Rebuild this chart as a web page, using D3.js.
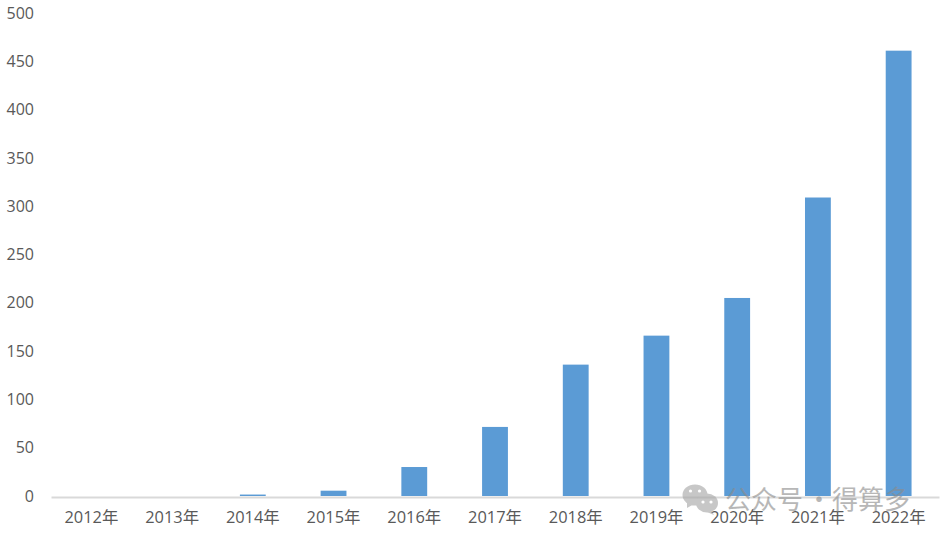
<!DOCTYPE html>
<html>
<head>
<meta charset="utf-8">
<script src="https://d3js.org/d3.v7.min.js"></script>
<style>
html, body { margin: 0; padding: 0; background: #fff; }
text { font-family: "Open Sans", "Noto Sans CJK SC", sans-serif; }
</style>
</head>
<body>
<div id="chart-area"></div>
<script>
var years = ["2012年", "2013年", "2014年", "2015年", "2016年", "2017年", "2018年", "2019年", "2020年", "2021年", "2022年"]
var values = [0, 0, 1.5, 5.5, 30, 71.5, 136, 166, 205, 309, 461]
var yTicks = [0, 50, 100, 150, 200, 250, 300, 350, 400, 450, 500]

var canvasWidth = 942
var canvasHeight = 538
var margin = {top: 13, bottom: 42, left: 51, right: 3}

var svg = d3.select("#chart-area")
	.append("svg")
	.attr("width", canvasWidth)
	.attr("height", canvasHeight)
	.style("display", "block")

var x = d3.scaleBand()
	.domain(years)
	.range([margin.left, canvasWidth - margin.right])
	.paddingInner(0.68)
	.paddingOuter(0.34)

var y = d3.scaleLinear()
	.domain([0, 500])
	.range([canvasHeight - margin.bottom, margin.top])

svg.selectAll("rect.bar")
	.data(values)
	.enter().append("rect")
		.attr("class", "bar")
		.attr("x", function(d, i) { return x(years[i]) })
		.attr("y", function(d) { return y(d) })
		.attr("width", x.bandwidth())
		.attr("height", function(d) { return y(0) - y(d) })
		.attr("fill", "#5b9bd5")

var xAxis = svg.append("g")
	.attr("transform", "translate(0," + (y(0) + 1) + ")")
	.call(d3.axisBottom(x).tickSize(0).tickPadding(14))
xAxis.select(".domain").attr("stroke", "#d9d9d9").attr("stroke-width", 2)
xAxis.selectAll("text")
	.attr("fill", "#595959")
	.attr("font-size", "16.4px")

var yAxis = svg.append("g")
	.attr("transform", "translate(" + margin.left + ",0)")
	.call(d3.axisLeft(y).tickValues(yTicks).tickSize(0).tickPadding(17))
yAxis.select(".domain").remove()
yAxis.selectAll("text")
	.attr("fill", "#595959")
	.attr("font-size", "16px")

// watermark
var mark = svg.append("g").attr("opacity", 0.62)
mark.append("ellipse").attr("cx", 695).attr("cy", 495).attr("rx", 12.5).attr("ry", 10.5).attr("fill", "#a6a6a6")
mark.append("path").attr("d", "M687,502 L687,508 L694,504 Z").attr("fill", "#a6a6a6")
mark.append("ellipse").attr("cx", 707).attr("cy", 503).attr("rx", 11).attr("ry", 9.5).attr("fill", "#a6a6a6")
mark.append("path").attr("d", "M711,510 L714,515 L707,512 Z").attr("fill", "#a6a6a6")
var eyes = [[690.5, 491], [699.5, 491], [703, 502], [711, 502]]
mark.selectAll("circle")
	.data(eyes)
	.enter().append("circle")
		.attr("cx", function(d) { return d[0] })
		.attr("cy", function(d) { return d[1] })
		.attr("r", 1.6)
		.attr("fill", "#fff")

var wm = mark.append("text")
	.attr("y", 509)
	.attr("font-size", "26px")
	.attr("fill", "#8c8c8c")
	.style("font-family", "'Noto Sans CJK SC', sans-serif")
wm.append("tspan").attr("x", 725).text("公众号")
wm.append("tspan").attr("x", 806).text("·")
wm.append("tspan").attr("x", 832).text("得算多")
</script>
</body>
</html>
